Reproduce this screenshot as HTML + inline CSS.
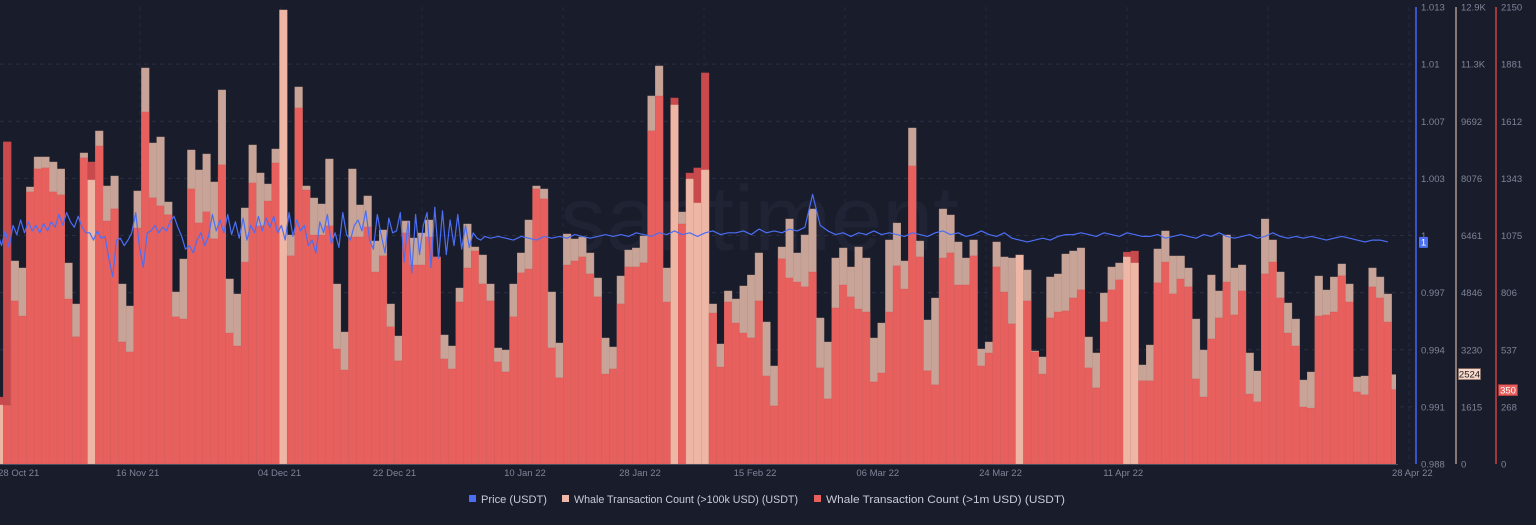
<!DOCTYPE html>
<html><head><meta charset="utf-8"><style>
html,body{margin:0;padding:0;background:#191c2b;}
body{width:1536px;height:520px;overflow:hidden;font-family:"Liberation Sans",sans-serif;}
svg text{font-family:"Liberation Sans",sans-serif;}
</style></head><body>
<svg id="chart" width="1536" height="520" viewBox="0 0 1536 520" xmlns="http://www.w3.org/2000/svg">
<rect width="1536" height="520" fill="#191c2b"/>
<text x="560" y="250" font-size="92" fill="#1f2334">santiment</text>
<defs><clipPath id="plotclip"><rect x="0" y="0" width="1396" height="464"/></clipPath></defs>
<g id="grid"></g>
<g id="bars" clip-path="url(#plotclip)"></g>
<g id="line" clip-path="url(#plotclip)"></g>
<g id="axes"></g>
<g id="legend">
  <rect x="469" y="495" width="7" height="7" fill="#4b6ef5"/>
  <text x="481" y="503" font-size="11" textLength="66" lengthAdjust="spacingAndGlyphs" fill="#c9ccd6">Price (USDT)</text>
  <rect x="562" y="495" width="7" height="7" fill="#efb7a6"/>
  <text x="574" y="503" font-size="11" textLength="224" lengthAdjust="spacingAndGlyphs" fill="#c9ccd6">Whale Transaction Count (&gt;100k USD) (USDT)</text>
  <rect x="814" y="495" width="7" height="7" fill="#e8605e"/>
  <text x="826" y="503" font-size="11" textLength="239" lengthAdjust="spacingAndGlyphs" fill="#c9ccd6">Whale Transaction Count (&gt;1m USD) (USDT)</text>
</g>
</svg>
<script>
const whale100k = [1666,1666,5731,5533,7820,8667,8667,8525,8328,5674,4517,8780,8017,9401,7848,8130,5081,4460,7707,11179,9062,9231,7396,4856,5787,8864,8300,8751,7961,10558,5223,4799,7227,9005,8215,7904,8892,12816,6465,10643,7848,7509,7340,8610,5081,3726,8328,7312,7566,6295,6606,4517,3613,6860,6380,6521,6888,5844,3642,3331,4968,6775,6126,5900,5081,3275,3218,5081,5957,6888,7848,7763,4856,3416,6493,6352,6408,5957,5251,3557,3303,5307,6041,6098,6436,10389,11236,5533,10135,7114,8046,7368,8300,4517,3388,4884,4658,5025,5335,5957,4009,2767,6126,6916,5957,6465,7199,4122,3444,5815,6098,5561,6126,5815,3557,3980,6324,6803,5731,9485,6295,4065,4686,7199,7029,6267,5815,6324,3246,3444,6267,5844,5815,5900,5477,3190,3021,5279,5364,5928,6013,6098,3585,3134,4827,5561,5674,5844,5674,2795,3359,6070,6578,5872,5872,5533,4093,3218,5335,4884,6465,5533,5618,3134,2625,6916,6324,5420,4545,4093,2371,2597,5307,4912,5279,5646,5081,2456,2484,5533,5279,4799,2524];
const whale1m = [315,1515,767,696,1280,1388,1393,1280,1266,776,598,1440,1421,1496,1143,1200,574,527,1110,1656,1252,1214,1172,692,682,1294,1134,1186,1059,1407,616,555,950,1322,1120,1237,1416,1300,979,1675,1289,1077,1077,1120,541,442,1068,1068,1115,903,979,645,485,1087,936,936,1068,974,494,447,762,922,1002,847,767,480,433,692,899,917,1294,1247,546,405,936,955,974,894,786,423,447,753,927,927,946,1567,1731,762,1722,1129,1369,1393,1840,710,456,762,663,616,593,767,414,273,965,875,856,833,903,452,306,734,842,786,729,715,386,428,715,932,823,1402,974,438,372,969,993,842,842,979,461,522,927,809,659,900,767,527,423,687,715,720,781,819,452,358,668,819,866,997,1002,391,391,852,950,800,870,833,400,315,588,687,856,701,814,329,292,894,950,781,616,555,268,263,696,701,715,885,762,339,325,833,781,668,350];
const highlightDays = [0,12,37,88,90,91,92,133,147,148];
const priceIntraday = [1.0004,0.9997,1.0005,0.9996,1.0008,1.0003,1.0011,1.0004,1.0010,1.0005,1.0008,1.0004,1.0009,1.0005,1.0010,1.0007,
1.0014,1.0008,1.0015,1.0010,1.0007,1.0013,1.0007,1.0004,
1.0004,1.0000,1.0005,1.0001,1.0002,0.9990,0.9980,1.0000,
1.0001,0.9997,1.0000,1.0004,1.0015,0.9996,0.9985,1.0004,
1.0005,1.0008,1.0004,1.0007,1.0005,1.0010,1.0013,1.0007,
1.0002,0.9995,0.9997,0.9993,1.0000,1.0004,0.9997,1.0002,
1.0014,1.0005,1.0011,1.0004,1.0014,1.0003,1.0010,1.0001,
1.0012,1.0000,1.0008,1.0004,1.0013,1.0005,1.0012,1.0007,
1.0013,1.0004,1.0008,1.0000,1.0015,1.0002,1.0011,1.0005,
1.0008,0.9997,1.0000,0.9993,1.0010,1.0004,1.0014,0.9998,
1.0004,0.9996,1.0015,1.0003,1.0000,1.0008,1.0011,1.0005,
1.0016,1.0000,0.9995,1.0014,1.0003,0.9993,1.0012,1.0004,
1.0005,1.0015,0.9988,1.0010,0.9982,1.0014,0.9992,1.0008,
1.0015,0.9985,1.0018,0.9990,1.0016,0.9992,1.0011,0.9997,
1.0014,0.9995,1.0008,0.9996,1.0004,1.0001,1.0000,1.0002];
const priceDaily = [1.0001,1.0002,1.0001,1.0000,1.0002,1.0001,1.0000,1.0002,1.0001,1.0002,1.0001,1.0003,1.0002,1.0001,1.0002,1.0003,1.0002,
1.0003,1.0002,1.0004,1.0003,1.0002,1.0004,1.0003,1.0005,1.0003,1.0004,1.0002,1.0004,1.0005,1.0003,1.0004,
1.0004,1.0005,1.0003,1.0006,1.0004,1.0005,1.0004,1.0006,1.0005,1.0007,1.0025,1.0008,1.0005,1.0003,1.0004,1.0002,1.0004,1.0003,1.0005,1.0003,1.0004,1.0003,1.0002,1.0004,
1.0003,1.0002,1.0004,1.0005,1.0003,1.0004,1.0002,1.0003,1.0005,1.0003,1.0002,1.0004,
1.0001,1.0000,0.9999,1.0000,1.0001,1.0000,1.0002,1.0003,
1.0003,1.0004,1.0003,1.0002,1.0004,1.0003,1.0002,1.0004,1.0003,1.0002,
1.0002,1.0003,1.0001,1.0002,1.0003,1.0002,1.0001,1.0003,1.0002,1.0004,1.0002,1.0001,1.0002,1.0003,1.0001,1.0002,1.0004,1.0002,1.0001,1.0002,
1.0001,1.0002,1.0001,1.0000,1.0001,1.0002,1.0001,1.0000,0.9999,1.0000,1.0000,0.9999];
const priceTicks = ["1.013","1.01","1.007","1.003","1","0.997","0.994","0.991","0.988"];
const whale100kTicks = ["12.9K","11.3K","9692","8076","6461","4846","3230","1615","0"];
const whale1mTicks = ["2150","1881","1612","1343","1075","806","537","268","0"];
const dateLabels = ["28 Oct 21","16 Nov 21","04 Dec 21","22 Dec 21","10 Jan 22","28 Jan 22","15 Feb 22","06 Mar 22","24 Mar 22","11 Apr 22","28 Apr 22"];
const dateLabelBars = [3,18.5,37,52,69,84,99,115,131,147,184.7];

const NS="http://www.w3.org/2000/svg";
const TOP=7, BASE=464, BW=7.67, X0=-4.3;
const MAX100K=12900, MAX1M=2150, PMIN=0.98775, PMAX=1.01275;
function xBar(i){return X0+i*BW;}
function y100k(v){return BASE-v/MAX100K*(BASE-TOP);}
function y1m(v){return BASE-v/MAX1M*(BASE-TOP);}
function yPrice(p){return BASE-(p-PMIN)/(PMAX-PMIN)*(BASE-TOP);}
function mk(tag,attrs,parent){const e=document.createElementNS(NS,tag);for(const k in attrs)e.setAttribute(k,attrs[k]);parent.appendChild(e);return e;}

const grid=document.getElementById('grid');
for(let k=1;k<8;k++){
  const y=TOP+k*(BASE-TOP)/8;
  const g=mk('line',{x1:0,x2:1414,y1:y,y2:y,stroke:'#2a2e40','stroke-dasharray':'4 4','stroke-width':1},grid);
  
  
}
for(let k=0;k<10;k++){
  const x=140+k*141;
  const g=mk('line',{x1:x,x2:x,y1:TOP,y2:BASE,stroke:'#23273a','stroke-dasharray':'4 4','stroke-width':1},grid);
  
  
}

const bars=document.getElementById('bars');
for(let i=0;i<whale100k.length;i++){
  const x=xBar(i), lt=y100k(whale100k[i]), rt=y1m(whale1m[i]);
  const hl=highlightDays.indexOf(i)>=0;
  if(hl){
    const r=mk('rect',{x:x,y:rt,width:BW,height:BASE-rt,fill:'#c94a4d',stroke:'#b84446','stroke-width':0.4},bars);
    
    
    const l=mk('rect',{x:x,y:lt,width:BW,height:BASE-lt,fill:'#eeb6a5',stroke:'#dca595','stroke-width':0.4},bars);
    
    
  } else {
    const l=mk('rect',{x:x,y:lt,width:BW,height:BASE-lt,fill:'#c7a497',stroke:'#b8968a','stroke-width':0.4},bars);
    
    
    const r=mk('rect',{x:x,y:rt,width:BW,height:BASE-rt,fill:'#e8605e',stroke:'#d25554','stroke-width':0.4},bars);
    
    
    if(rt<lt){
      const d=mk('rect',{x:x,y:rt,width:BW,height:lt-rt,fill:'#c94a4d',stroke:'#b84446','stroke-width':0.4},bars);
      
      
    }
  }
}

const lineG=document.getElementById('line');
let pts=[];
for(let j=0;j<priceIntraday.length;j++){pts.push([X0+(j+0.5)*BW/2, yPrice(priceIntraday[j])]);}
const off=priceIntraday.length/2;
for(let j=0;j<priceDaily.length;j++){pts.push([xBar(off+j)+BW/2, yPrice(priceDaily[j])]);}
const pl=mk('polyline',{points:pts.map(p=>p[0].toFixed(1)+','+p[1].toFixed(1)).join(' '),fill:'none',stroke:'#4b6ef5','stroke-width':1.2,'stroke-linejoin':'round'},lineG);



const axes=document.getElementById('axes');
const bl=mk('line',{x1:0,x2:1398,y1:BASE+0.5,y2:BASE+0.5,stroke:'#4a4e60','stroke-width':1},axes);


const axDefs=[[1416,'#3953c4',priceTicks,1421,'price-axis'],[1456,'#857773',whale100kTicks,1461,'whale-100k-axis'],[1496,'#9c3a3e',whale1mTicks,1501,'whale-1m-axis']];
axDefs.forEach(a=>{
  const ln=mk('line',{x1:a[0],x2:a[0],y1:TOP,y2:BASE,stroke:a[1],'stroke-width':2},axes);
  
  
  a[2].forEach((t,k)=>{
    const y=TOP+k*(BASE-TOP)/8;
    const tx=mk('text',{x:a[3],y:y+3.5,'font-size':9.5,fill:'#7f8498'},axes);
    tx.textContent=t;
    
    
  });
});
dateLabels.forEach((t,k)=>{
  const tx=mk('text',{x:xBar(dateLabelBars[k]),y:476,'font-size':9.5,fill:'#7f8498','text-anchor':'middle'},axes);
  tx.textContent=t;
  
  
});
const lastP=priceDaily[priceDaily.length-1], yp=yPrice(lastP);
const m1=mk('rect',{x:1419,y:yp-5,width:9,height:11,fill:'#4b6ef5',rx:1},axes);


const t1=mk('text',{x:1423.5,y:yp+3.5,'font-size':9.5,fill:'#ffffff','text-anchor':'middle'},axes);
t1.textContent='1';


const l100=whale100k[whale100k.length-1], y1=y100k(l100);
const m2=mk('rect',{x:1458.5,y:y1-6,width:22,height:11,fill:'#f6d7c9',stroke:'#8a6e64','stroke-width':0.8},axes);


const t2=mk('text',{x:1469.5,y:y1+3,'font-size':9.5,fill:'#222','text-anchor':'middle'},axes);
t2.textContent=String(l100);


const l1m=whale1m[whale1m.length-1], y2=y1m(l1m);
const m3=mk('rect',{x:1498.5,y:y2-5,width:19,height:11,fill:'#e8605e',stroke:'#a03a3c','stroke-width':0.8},axes);


const t3=mk('text',{x:1508,y:y2+4,'font-size':9.5,fill:'#ffffff','text-anchor':'middle'},axes);
t3.textContent=String(l1m);


</script>
</body></html>
